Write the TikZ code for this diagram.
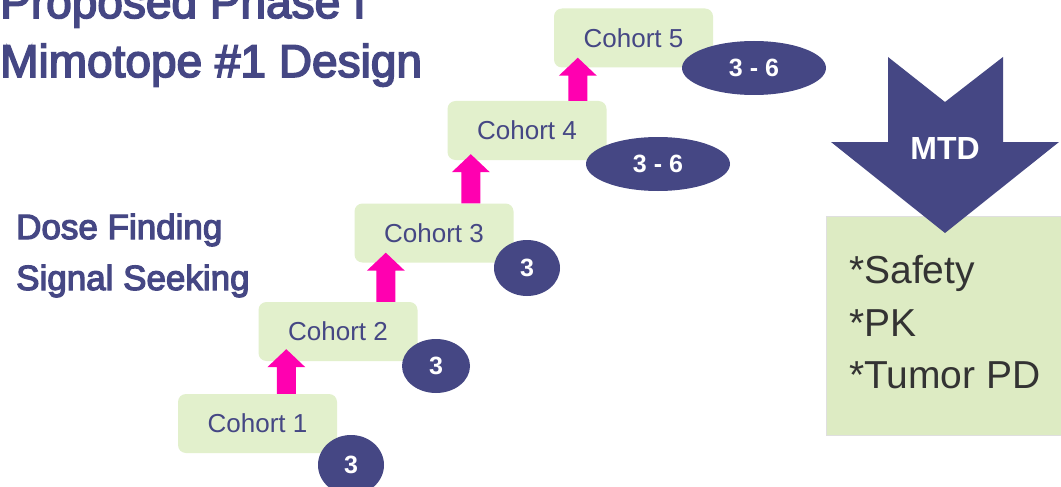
\documentclass[tikz,border=0pt]{standalone}
\usepackage{fontspec}
\setmainfont{Liberation Sans}
\newfontfamily\medfont[FakeBold=3.5]{Liberation Sans}
\usetikzlibrary{shapes.geometric,calc}
\definecolor{navy}{RGB}{69,71,132}
\definecolor{pinkc}{RGB}{255,0,176}
\definecolor{lgreen}{RGB}{226,240,204}
\definecolor{bgreen}{RGB}{221,235,195}
\definecolor{dgray}{RGB}{51,51,51}
\tikzset{
  cohort/.style={fill=lgreen, rounded corners=8pt, minimum width=159pt, minimum height=59pt, inner sep=0pt,
    text=navy, font=\fontsize{26}{30}\selectfont},
  count/.style={ellipse, fill=navy, inner sep=0pt, text=white, font=\fontsize{25}{30}\selectfont\bfseries},
  titletext/.style={text=navy, inner sep=0pt, anchor=base west, font=\medfont\fontsize{46}{55}\selectfont},
  sidetext/.style={text=navy, inner sep=0pt, anchor=base west, font=\medfont\fontsize{35}{40}\selectfont},
  listtext/.style={text=dgray, inner sep=0pt, anchor=base west, font=\fontsize{39}{52}\selectfont},
}
\newcommand\blockarrow[2]{%
  \fill[pinkc] ($(#1)+(-9.5,0)$) -- ($(#2)+(-9.5,18)$) -- ($(#2)+(-19,18)$) -- (#2)
    -- ($(#2)+(19,18)$) -- ($(#2)+(9.5,18)$) -- ($(#1)+(9.5,0)$) -- cycle;}
\begin{document}
\begin{tikzpicture}[x=1pt,y=-1pt]
\useasboundingbox (0,0) rectangle (1061,487);
\fill[white] (0,0) rectangle (1061,487);
% title
\node[titletext] (t1) at (0,18) {Proposed Phase I};
\node[titletext] (t2) at (0,77) {Mimotope \#1 Design};
\node[sidetext] (s1) at (16,239) {Dose Finding};
\node[sidetext] (s2) at (16,290) {Signal Seeking};
% cohorts
\node[cohort] (c1) at (257.5,423.5) {Cohort 1};
\node[cohort] (c2) at (338,331.5) {Cohort 2};
\node[cohort] (c3) at (434,233) {Cohort 3};
\node[cohort] (c4) at (527,130.5) {Cohort 4};
\node[cohort] (c5) at (633.5,38) {Cohort 5};
% arrows
\coordinate (a1b) at ($(c1.north west)+(108.5,0)$);
\coordinate (a1t) at ($(a1b |- c2.south)+(0,-12)$);
\coordinate (a2b) at ($(c2.north west)+(127.5,0)$);
\coordinate (a2t) at ($(a2b |- c3.south)+(0,-10)$);
\coordinate (a3b) at ($(c3.north west)+(116.5,0)$);
\coordinate (a3t) at ($(a3b |- c4.south)+(0,-6)$);
\coordinate (a4b) at ($(c4.north west)+(130.5,0)$);
\coordinate (a4t) at ($(a4b |- c5.south)+(0,-10)$);
\blockarrow{a1b}{a1t}
\blockarrow{a2b}{a2t}
\blockarrow{a3b}{a3t}
\blockarrow{a4b}{a4t}
% counts
\node[count, minimum width=66pt, minimum height=60pt] (e1) at (351,465) {3};
\node[count, minimum width=68pt, minimum height=54pt] (e2) at (436,366) {3};
\node[count, minimum width=66pt, minimum height=56pt] (e3) at (527,268) {3};
\node[count, minimum width=144pt, minimum height=54pt] (e4) at (658,164) {3 - 6};
\node[count, minimum width=144pt, minimum height=54pt] (e5) at (754,68) {3 - 6};
% result box
\fill[bgreen, draw=gray!25, line width=0.6pt] (826,216) rectangle (1062,435);
\node[listtext] (l1) at (849,283) {*Safety};
\node[listtext] (l2) at (849,336) {*PK};
\node[listtext] (l3) at (849,388) {*Tumor PD};
% MTD arrow
\fill[navy] (888,57) -- (945,102) -- (1003,57) -- (1003,142) -- (1059,142) -- (945,233)
  -- (831,142) -- (888,142) -- cycle;
\node[text=white, font=\fontsize{32}{38}\selectfont\bfseries, inner sep=0pt] (mtd) at (945,148) {MTD};
\end{tikzpicture}
\end{document}
